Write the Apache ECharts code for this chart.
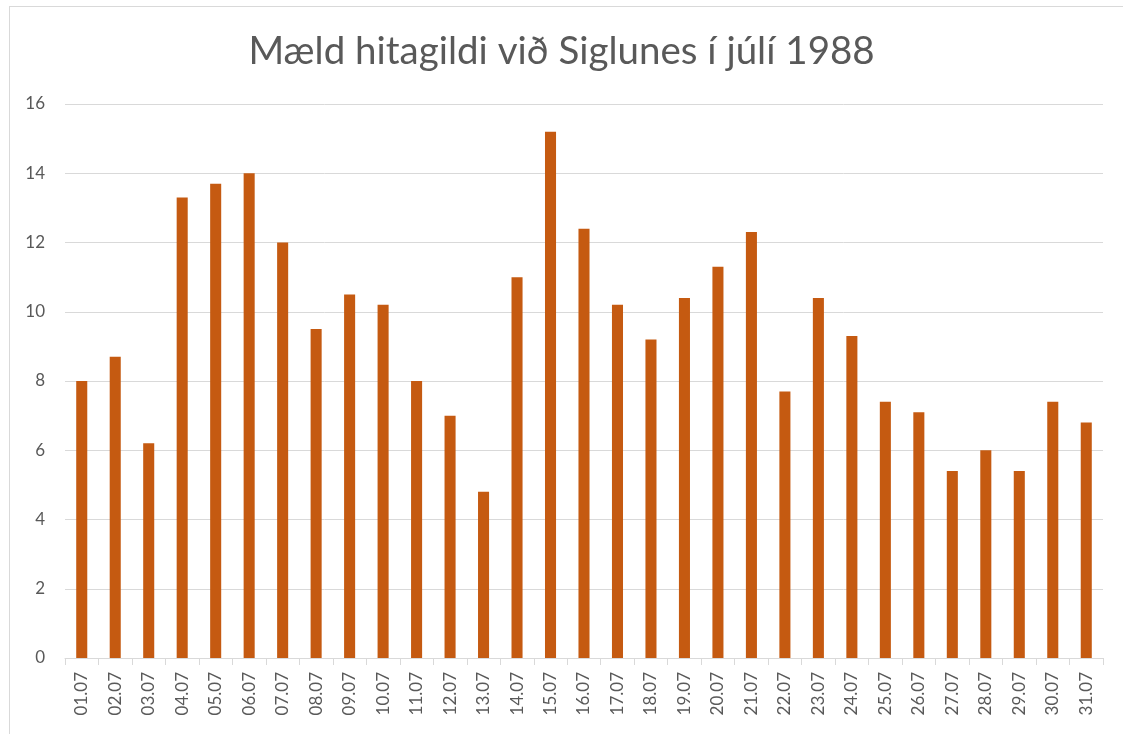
<!DOCTYPE html>
<html><head><meta charset="utf-8">
<script src="https://cdn.jsdelivr.net/npm/echarts@6/dist/echarts.min.js"></script>
<style>html,body{margin:0;padding:0;background:#fff}#c{width:1123px;height:734px}
#frame{position:absolute;left:9px;top:6px;width:1130px;height:740px;border:1px solid #d9d9d9;box-sizing:border-box;pointer-events:none}</style>
</head><body><div id="c"></div><div id="frame"></div>
<script>
const categories = ["01.07","02.07","03.07","04.07","05.07","06.07","07.07","08.07","09.07","10.07","11.07","12.07","13.07","14.07","15.07","16.07","17.07","18.07","19.07","20.07","21.07","22.07","23.07","24.07","25.07","26.07","27.07","28.07","29.07","30.07","31.07"];
const temperatures = [8.0,8.7,6.2,13.3,13.7,14.0,12.0,9.5,10.5,10.2,8.0,7.0,4.8,11.0,15.2,12.4,10.2,9.2,10.4,11.3,12.3,7.7,10.4,9.3,7.4,7.1,5.4,6.0,5.4,7.4,6.8];
const titleText = "Mæld hitagildi við Siglunes í júlí 1988";

const chart = echarts.init(document.getElementById('c'), null, {renderer:'canvas'});
chart.setOption({
  animation:false,
  backgroundColor:'#ffffff',
  title:{text:titleText,left:'center',top:27,padding:[5,5,5,27],textStyle:{fontFamily:'Lato',fontSize:38.5,fontWeight:'normal',color:'#595959'}},
  grid:{left:65,right:20,top:104,bottom:76,containLabel:false},
  xAxis:{type:'category',data:categories,
    axisLine:{lineStyle:{color:'#d9d9d9',width:1}},
    axisTick:{show:true,length:7,lineStyle:{color:'#d9d9d9'}},
    axisLabel:{rotate:90,color:'#595959',fontFamily:'Lato',fontSize:17,margin:14,interval:0}},
  yAxis:{type:'value',min:0,max:16,interval:2,
    axisLine:{show:false},axisTick:{show:false},
    axisLabel:{color:'#595959',fontFamily:'Lato',fontSize:17,margin:20},
    splitLine:{lineStyle:{color:'#d9d9d9',width:1}}},
  series:[{type:'bar',data:temperatures,barWidth:'33%',itemStyle:{color:'#C55A11'}}]
});
</script></body></html>
